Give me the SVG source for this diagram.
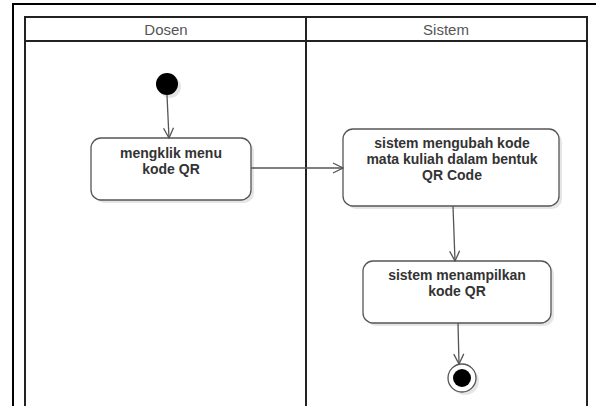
<svg xmlns="http://www.w3.org/2000/svg" width="596" height="406" viewBox="0 0 596 406">
<style>
.frame{fill:none;stroke:#000;stroke-width:2}
.pool{fill:none;stroke:#222;stroke-width:2}
.hdr{font-family:"Liberation Sans",Arial,sans-serif;font-size:15px;fill:#555;text-anchor:middle}
.act{fill:#fff;stroke:#555;stroke-width:1.3}
.shadow{fill:#000;opacity:0.1}
.lbl{font-family:"Liberation Sans",Arial,sans-serif;font-size:14px;font-weight:bold;fill:#333;text-anchor:middle}
.conn{fill:none;stroke:#555;stroke-width:1.3}
</style>
<defs>
<marker id="arr" viewBox="0 0 12 12" refX="11" refY="6" markerWidth="12" markerHeight="12" markerUnits="userSpaceOnUse" orient="auto">
<path d="M1,1 L11,6 L1,11" fill="none" stroke="#555" stroke-width="1.3"/>
</marker>
</defs>
<rect width="596" height="406" fill="#fff"/>
<path class="frame" d="M13,410 V4 H596"/>
<g id="pool">
<rect class="pool" x="25" y="17" width="562" height="400"/>
<line class="pool" x1="25" y1="41" x2="587" y2="41"/>
<line class="pool" x1="306" y1="17" x2="306" y2="410"/>
<text class="hdr" x="166" y="35">Dosen</text>
<text class="hdr" x="446" y="35">Sistem</text>
</g>
<g id="start">
<circle class="shadow" cx="170" cy="87" r="11"/>
<circle cx="167" cy="84" r="11" fill="#000"/>
</g>
<g id="a1">
<rect class="shadow" x="94" y="141" width="160" height="62" rx="10"/>
<rect class="act" x="91" y="138" width="160" height="62" rx="10"/>
<text class="lbl" x="171" y="158">mengklik menu</text>
<text class="lbl" x="171" y="174">kode QR</text>
</g>
<g id="a2">
<rect class="shadow" x="346" y="132" width="216" height="77" rx="10"/>
<rect class="act" x="343" y="129" width="216" height="77" rx="10"/>
<text class="lbl" x="452" y="148">sistem mengubah kode</text>
<text class="lbl" x="452" y="164">mata kuliah dalam bentuk</text>
<text class="lbl" x="452" y="180">QR Code</text>
</g>
<g id="a3">
<rect class="shadow" x="366" y="264" width="188" height="62" rx="10"/>
<rect class="act" x="363" y="261" width="188" height="62" rx="10"/>
<text class="lbl" x="457" y="280">sistem menampilkan</text>
<text class="lbl" x="457" y="296">kode QR</text>
</g>
<g id="end">
<circle class="shadow" cx="465" cy="381" r="14"/>
<circle cx="462" cy="378" r="14" fill="#fff" stroke="#555" stroke-width="1.3"/>
<circle cx="462" cy="378" r="9" fill="#000"/>
</g>
<g id="connectors">
<line class="conn" x1="167" y1="95" x2="169" y2="138" marker-end="url(#arr)"/>
<line class="conn" x1="251" y1="168" x2="343" y2="168" marker-end="url(#arr)"/>
<line class="conn" x1="453" y1="206" x2="455" y2="261" marker-end="url(#arr)"/>
<line class="conn" x1="458" y1="323" x2="459" y2="364" marker-end="url(#arr)"/>
</g>
</svg>
